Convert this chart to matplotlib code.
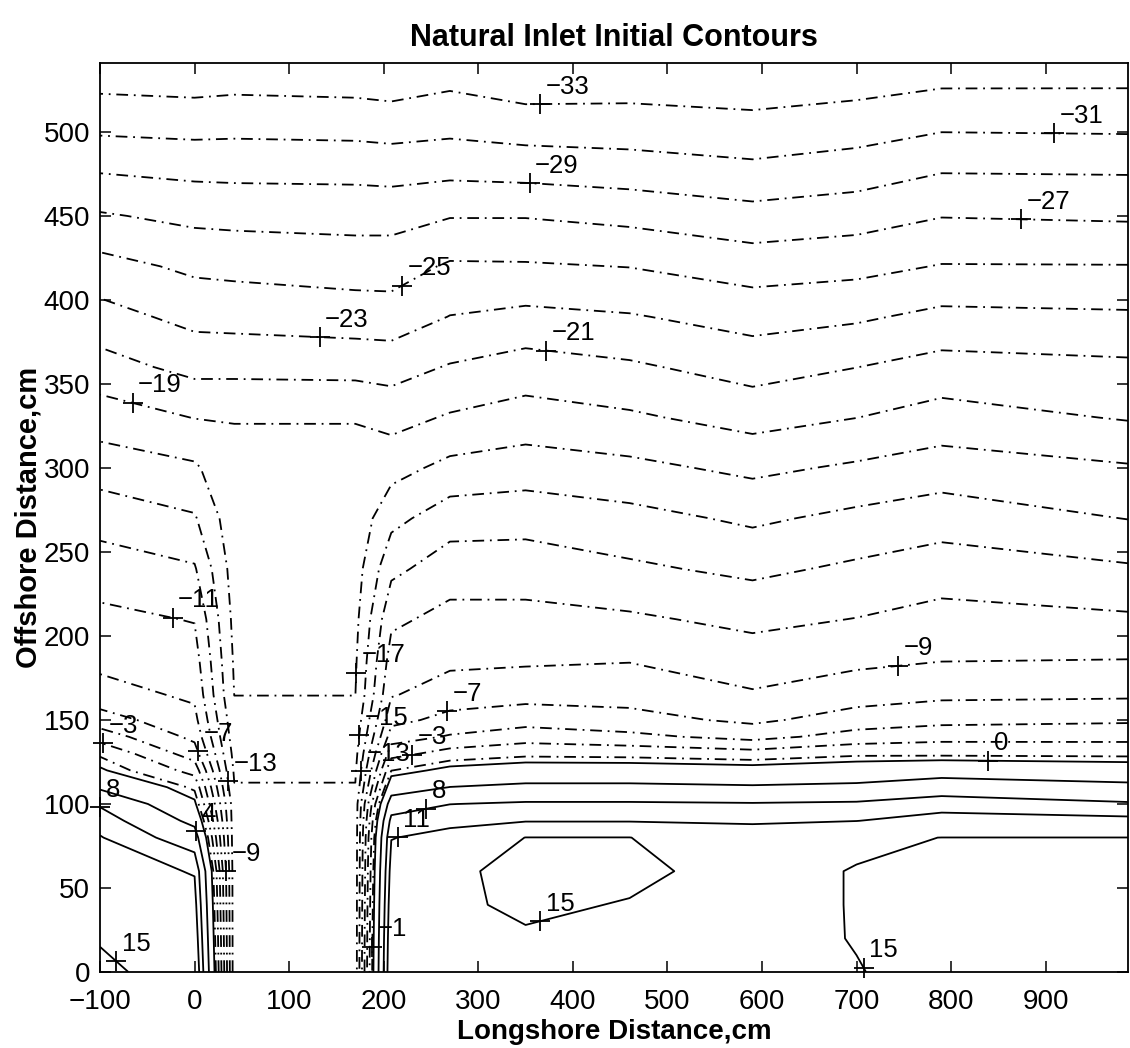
import numpy as np
import matplotlib
matplotlib.use("Agg")
import matplotlib.pyplot as plt

# 测线位置（沿岸方向，cm）
x_lines = [-100, 0, 42, 170, 208, 270, 350, 460, 590, 700, 790, 987]
# 离岸方向采样位置（cm）
y_rows = [0, 20, 40, 60, 80, 90, 100, 110, 120, 130, 140, 150, 165,
          185, 210, 240, 270, 300, 330, 360, 390, 420, 450, 480, 510, 541]

# 各测线高程（cm），按 y_rows 顺序，从图中等值线位置读取估计
z_m100 = [15.3, 14.9, 13.7, 12.4, 11.2, 9.7, 7.6, 3.4, 0.3, -1.3, -3.9, -6.1, -8.2,
          -9.5, -10.5, -12.0, -13.8, -15.9, -18.0, -20.2, -22.25, -24.3, -26.8, -29.4, -32.1, -34.3]
z_0 = [14.3, 13.2, 12.1, 10.8, 5.8, 3.0, 0.5, -1.4, -3.75, -6.0, -7.5, -8.4, -9.35,
       -10.1, -11.1, -12.8, -14.8, -16.7, -19.05, -21.6, -23.6, -25.4, -27.5, -29.7, -32.25, -34.5]
z_42 = [-14.2, -14.2, -14.2, -14.2, -14.2, -14.2, -14.2, -14.9, -15.27, -15.65, -16.05, -16.4, -17.02,
        -17.25, -17.55, -17.9, -18.3, -18.65, -19.05, -21.6, -23.7, -25.55, -27.6, -29.75, -32.1, -34.4]
z_170 = [-14.2, -14.2, -14.2, -14.2, -14.2, -14.2, -14.2, -14.9, -15.27, -15.65, -16.05, -16.4, -17.02,
         -17.25, -17.55, -17.9, -18.3, -18.65, -19.05, -21.7, -24.0, -25.9, -27.7, -29.8, -32.25, -34.5]
z_208 = [14.0, 13.6, 13.0, 12.2, 10.9, 9.0, 6.0, 2.0, -1.05, -3.75, -6.0, -7.6, -9.15,
         -10.1, -11.4, -13.5, -15.6, -17.7, -19.7, -21.8, -24.1, -25.9, -27.7, -29.95, -32.4, -34.7]
z_270 = [14.3, 14.5, 14.7, 14.6, 11.9, 10.3, 7.95, 4.05, 0.67, -2.2, -4.8, -6.4, -8.0,
         -9.4, -10.4, -11.95, -13.9, -16.45, -18.8, -20.85, -22.95, -24.75, -27.1, -29.8, -32.05, -34.1]
z_350 = [14.4, 14.8, 15.3, 15.6, 15.05, 10.8, 8.45, 4.8, 1.33, -1.5, -3.9, -5.8, -7.7,
         -9.25, -10.4, -11.95, -13.75, -16.0, -18.15, -20.1, -22.5, -24.8, -27.1, -30.0, -32.5, -34.9]
z_460 = [14.3, 14.6, 14.9, 15.4, 15.05, 10.8, 8.45, 4.8, 1.33, -1.67, -4.5, -6.33, -7.73,
         -9.06, -10.7, -12.67, -14.35, -16.5, -18.7, -20.7, -22.85, -25.05, -27.55, -30.3, -32.5, -34.7]
z_590 = [14.0, 14.2, 14.3, 14.3, 12.0, 10.75, 8.25, 4.4, 1.0, -2.2, -5.67, -7.4, -8.8,
         -10.0, -11.5, -13.45, -15.35, -17.45, -19.75, -21.8, -23.75, -25.9, -28.3, -30.75, -32.8, -34.9]
z_700 = [14.9, 15.1, 15.1, 15.1, 14.6, 10.95, 8.5, 4.8, 1.54, -1.4, -4.2, -6.1, -7.87,
         -9.4, -10.95, -12.65, -14.5, -16.7, -19.02, -21.02, -23.3, -25.6, -27.85, -30.25, -32.4, -34.5]
z_790 = [15.8, 15.8, 15.7, 15.5, 15.02, 12.33, 9.6, 6.2, 2.2, -1.45, -3.67, -5.6, -7.4,
         -9.02, -10.3, -12.0, -13.9, -16.05, -18.2, -20.25, -22.5, -24.9, -27.07, -29.35, -31.85, -34.1]
z_987 = [15.8, 15.8, 15.7, 15.5, 15.02, 11.9, 8.4, 5.0, 1.45, -1.5, -3.67, -5.3, -7.3,
         -8.92, -10.7, -12.75, -15.05, -16.8, -19.15, -20.6, -22.7, -24.93, -27.27, -29.4, -31.97, -33.97]

# 等值线高程
neg_levels = [-33, -31, -29, -27, -25, -23, -21, -19, -17, -15, -13, -11, -9, -7, -5, -3, -1]
pos_levels = [0, 4, 8, 11, 15]

# 标注位置（等值线高程, 大致位置x, y）
label_spots = [(-33, 365, 515), (-31, 909, 495), (-29, 354, 468), (-27, 874, 446),
               (-25, 219, 409), (-23, 132, 374), (-21, 372, 373), (-19, -65, 340),
               (-17, 172, 178), (-15, 174, 141), (-13, 200, 118), (-13, 30, 113),
               (-11, -24, 209), (-9, 744, 181), (-9, 39, 60), (-7, 268, 154),
               (-7, 16, 134), (-3, -100, 131), (-3, 229, 132), (-1, 195, 15),
               (0, 839, 124), (4, 25, 88), (8, -100, 99), (8, 245, 97),
               (11, 212, 89), (15, 365, 31), (15, 715, 5), (15, -82, 7)]

Z = np.column_stack([z_m100, z_0, z_42, z_170, z_208, z_270, z_350,
                     z_460, z_590, z_700, z_790, z_987])
X, Y = np.meshgrid(x_lines, y_rows)

plt.rcParams['font.family'] = ['Liberation Sans', 'DejaVu Sans']
fig = plt.figure(figsize=(11.3, 10.48), dpi=100)
ax = fig.add_axes([0.0885, 0.0725, 0.9097, 0.8674])

# 负值为点划线，正值为实线（MATLAB 风格）
cs_neg = ax.contour(X, Y, Z, levels=neg_levels, colors='k', linewidths=1.3)
cs_neg.set_linestyle((0, (6.5, 3.2, 1.0, 3.2)))
cs_pos = ax.contour(X, Y, Z, levels=pos_levels, colors='k', linewidths=1.3,
                    linestyles='solid')

ax.set_xlim(-100, 987)
ax.set_ylim(0, 541)


def nearest_point(segs, p0):
    # 在等值线折线上找离 p0（屏幕坐标）最近的点
    best = None
    for s in segs:
        if len(s) < 2:
            continue
        d = ax.transData.transform(s)
        a, b = d[:-1], d[1:]
        ab = b - a
        t = np.clip(((p0 - a) * ab).sum(1) / np.maximum((ab ** 2).sum(1), 1e-9), 0, 1)
        q = a + t[:, None] * ab
        dist = ((q - p0) ** 2).sum(1)
        k = np.argmin(dist)
        if best is None or dist[k] < best[0]:
            best = (dist[k], q[k])
    return ax.transData.inverted().transform(best[1])


for lev, x0, y0 in label_spots:
    cs = cs_neg if lev < 0 else cs_pos
    idx = int(np.argmin(np.abs(np.asarray(cs.levels) - lev)))
    p0 = ax.transData.transform((x0, y0))
    px, py = nearest_point(cs.allsegs[idx], p0)
    ax.plot(px, py, '+', color='k', ms=14, mew=1.3, clip_on=False)
    txt = f"\u2212{abs(lev)}" if lev < 0 else f"{lev}"
    ax.annotate(txt, (px, py), xytext=(4, 4), textcoords='offset points',
                ha='left', va='bottom', fontsize=18.5)

ax.set_xticks(np.arange(-100, 901, 100))
ax.set_yticks(np.arange(0, 501, 50))
ax.tick_params(direction='in', length=8, width=1.1, top=True, right=True,
               labelsize=20)
ax.tick_params(axis='x', pad=12)
ax.tick_params(axis='y', pad=7)
for sp in ax.spines.values():
    sp.set_linewidth(1.3)

ax.set_xlabel('Longshore Distance,cm', fontsize=20, fontweight='bold', labelpad=3)
ax.set_ylabel('Offshore Distance,cm', fontsize=21, fontweight='bold', labelpad=1)
ax.set_title('Natural Inlet Initial Contours', fontsize=22, fontweight='bold', pad=12)

fig.savefig('out.png', dpi=100)
